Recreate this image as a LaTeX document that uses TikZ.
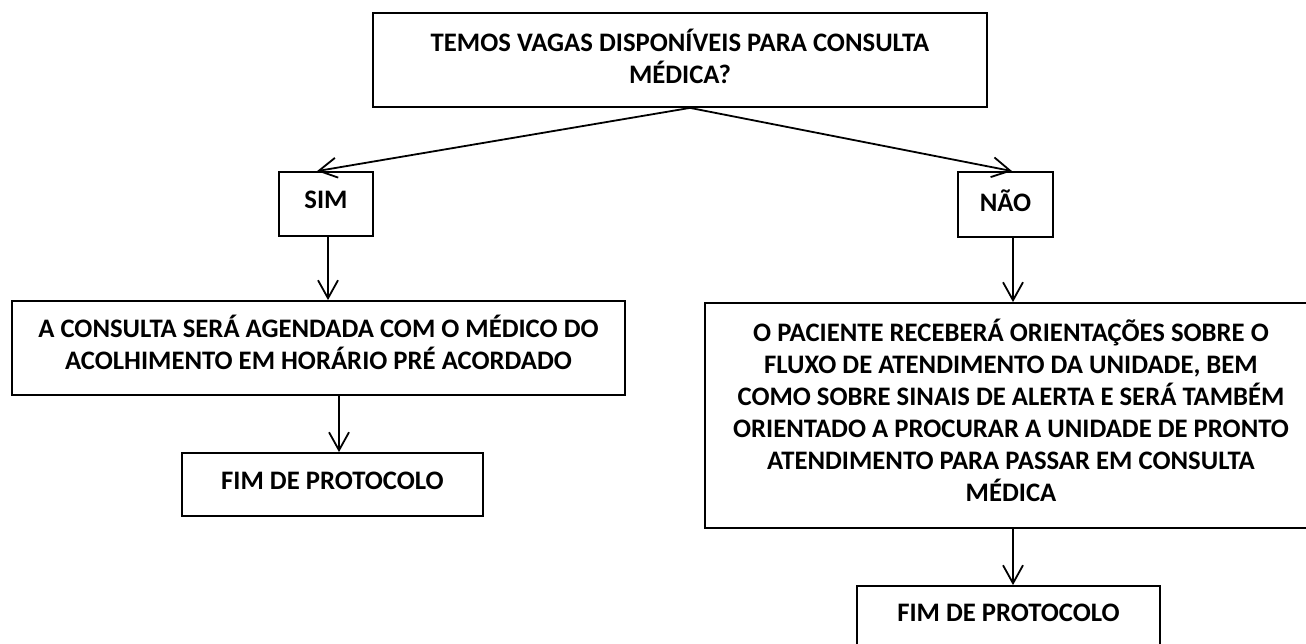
\documentclass[tikz,border=0pt]{standalone}
\usepackage{fontspec}
\setmainfont{Carlito}
\usetikzlibrary{arrows.meta,calc}
\newcommand\lowpad[1]{\rule[-#1]{0pt}{0pt}}
\begin{document}
\begin{tikzpicture}[x=1pt,y=-1pt,
  box/.style={draw, line width=1.8pt, inner sep=0pt, align=center,
    font=\fontsize{26.7}{32}\selectfont\bfseries},
  arr/.style={line width=1.8pt,
    -{Straight Barb[length=18pt,width=20pt,line width=1.8pt]}}]
\useasboundingbox (0,0) rectangle (1306,644);
\node[box, minimum width=614pt, minimum height=94pt] (top) at (680,60)
  {TEMOS VAGAS DISPONÍVEIS PARA CONSULTA\\MÉDICA?\lowpad{8pt}};
\node[box, minimum width=94pt, minimum height=64pt] (sim) at (326,204) {SIM\lowpad{8pt}};
\node[box, minimum width=95pt, minimum height=65pt] (nao) at (1005.5,204.5) {NÃO\lowpad{8pt}};
\node[box, minimum width=613pt, minimum height=94pt] (left) at (318.5,348)
  {A CONSULTA SERÁ AGENDADA COM O MÉDICO DO\\ACOLHIMENTO EM HORÁRIO PRÉ ACORDADO\lowpad{11pt}};
\node[box, minimum width=301pt, minimum height=63pt] (fim1) at (332.5,484.5)
  {FIM DE PROTOCOLO\lowpad{8pt}};
\node[box, minimum width=612pt, minimum height=225pt] (right) at (1011,415.5)
  {O PACIENTE RECEBERÁ ORIENTAÇÕES SOBRE O\\FLUXO DE ATENDIMENTO DA UNIDADE, BEM\\COMO SOBRE SINAIS DE ALERTA E SERÁ TAMBÉM\\ORIENTADO A PROCURAR A UNIDADE DE PRONTO\\ATENDIMENTO PARA PASSAR EM CONSULTA\\MÉDICA\lowpad{10pt}};
\node[box, minimum width=303pt, minimum height=62pt] (fim2) at (1008.5,617)
  {FIM DE PROTOCOLO\lowpad{8pt}};
\coordinate (apex) at ($(top.south)+(10,0)$);
\coordinate (simtip) at ($(sim.north)+(-9,0)$);
\coordinate (naotip) at ($(nao.north)+(6.5,0)$);
\coordinate (s1) at ($(sim.south)+(2,0)$);
\coordinate (s2) at (s1 |- left.north);
\coordinate (f1) at ($(fim1.north)+(6.5,0)$);
\coordinate (f0) at (f1 |- left.south);
\coordinate (n1) at ($(nao.south)+(7.5,0)$);
\coordinate (n2) at (n1 |- right.north);
\coordinate (g1) at ($(fim2.north)+(4.5,0)$);
\coordinate (g0) at (g1 |- right.south);
\draw[arr] (apex) -- (simtip);
\draw[arr] (apex) -- (naotip);
\draw[arr] (s1) -- (s2);
\draw[arr] (f0) -- (f1);
\draw[arr] (n1) -- (n2);
\draw[arr] (g0) -- (g1);
\end{tikzpicture}
\end{document}
